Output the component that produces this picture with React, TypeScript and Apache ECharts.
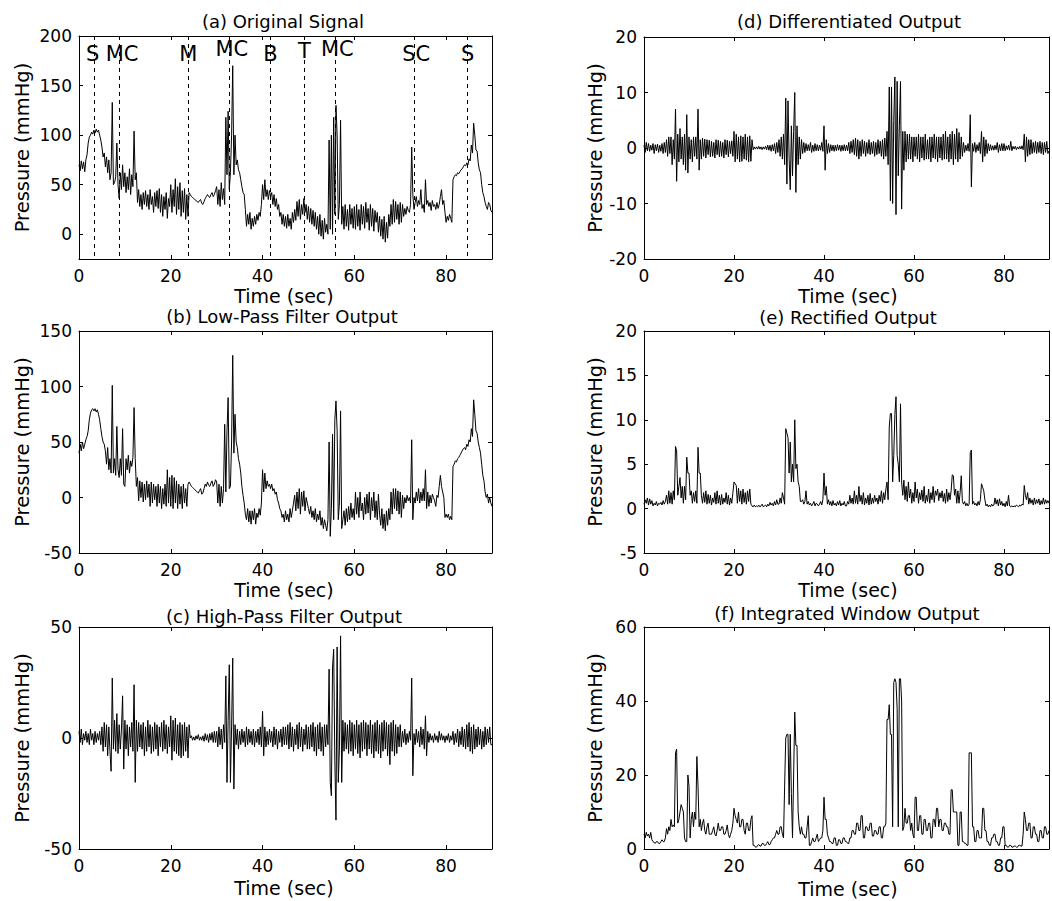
import React, { useEffect, useRef } from 'react';
import * as echarts from 'echarts';

const FONT = 'DejaVu Sans';
const STEP = 0.25; // seconds between samples (0 … 90 s)

// (a) Original signal (mmHg); each row = 5 s
const ORIGINAL = [
  70, 64, 74, 66, 73, 63, 75, 80, 92, 98, 100, 103, 101, 105, 102, 106, 103, 105, 100, 95,
  88, 78, 82, 68, 78, 62, 75, 55, 62, 133, 50, 52, 58, 92, 50, 36, 62, 45, 70, 48,
  62, 42, 58, 45, 66, 40, 60, 48, 104, 55, 62, 32, 45, 28, 40, 25, 42, 30, 44, 28,
  40, 25, 45, 30, 38, 22, 42, 28, 44, 26, 46, 22, 40, 18, 38, 25, 42, 16, 36, 28,
  50, 22, 45, 28, 56, 20, 48, 25, 52, 18, 44, 22, 46, 15, 40, 18, 42, 40, 38, 37,
  36, 35, 34, 33, 32, 34, 35, 31, 30, 33, 36, 38, 40, 38, 37, 40, 42, 38, 40, 44,
  48, 30, 45, 28, 52, 35, 46, 30, 118, 60, 124, 45, 62, 100, 170, 60, 100, 70, 75, 65,
  62, 55, 48, 42, 40, 25, 8, 20, 10, 22, 5, 16, 8, 18, 10, 20, 14, 22, 18, 30,
  50, 35, 55, 38, 45, 35, 44, 38, 42, 30, 40, 28, 36, 25, 30, 18, 22, 10, 20, 8,
  18, 6, 20, 8, 16, 5, 22, 12, 25, 14, 33, 18, 35, 15, 30, 20, 36, 22, 30, 15,
  28, 12, 26, 10, 24, 8, 22, 5, 18, 0, 20, -2, 14, -5, 16, 2, 10, 0, 95, 5,
  100, 0, 118, 20, 130, 100, 15, 30, 115, 10, 28, 5, 30, 8, 25, 4, 30, 10, 26, 6,
  28, 5, 30, 8, 25, 4, 30, 10, 28, 6, 32, 12, 26, 4, 30, 8, 26, 3, 24, 12,
  22, 2, 18, -2, 15, -5, 18, -8, 12, -4, 20, 8, 30, 10, 35, 12, 33, 15, 30, 10,
  32, 12, 30, 18, 26, 20, 28, 24, 22, 30, 88, 40, 25, 32, 38, 28, 34, 30, 45, 26,
  30, 22, 55, 30, 34, 28, 32, 24, 34, 28, 30, 25, 32, 26, 30, 38, 45, 30, 34, 22,
  12, 18, 14, 20, 16, 12, 55, 58, 60, 59, 62, 61, 63, 65, 66, 68, 70, 69, 72, 70,
  76, 74, 90, 82, 112, 100, 85, 84, 72, 65, 62, 50, 42, 38, 32, 28, 25, 32, 30, 24,
  22,
];

// (b) Low-pass filter output
const LOWPASS = [
  40, 48, 42, 50, 44, 48, 52, 55, 60, 70, 76, 79, 80, 78, 80, 77, 79, 75, 70, 62,
  55, 50, 48, 42, 30, 45, 25, 35, 22, 101, 22, 35, 20, 64, 25, 18, 35, 20, 62, 12,
  10, 35, 25, 38, 22, 33, 28, 36, 81, 35, 10, 18, -3, 15, 0, 14, -4, 12, -2, 15,
  0, 12, -8, 14, -5, 12, -2, 10, -8, 12, -5, 10, -10, 8, -6, 12, -8, 25, -5, 18,
  -8, 20, -10, 18, -5, 15, -10, 12, -6, 10, -10, 12, -5, 8, -8, 12, 14, 12, 10, 9,
  8, 7, 6, 5, 4, 6, 8, 3, 4, 8, 12, 10, 14, 11, 10, 13, 15, 10, 12, 16,
  14, -5, 12, -8, 10, -5, 8, 66, 5, 60, 90, 8, 10, 50, 128, 40, 75, 50, 45, 35,
  30, 22, 10, 2, -5, -15, -20, -10, -22, -12, -24, -12, -20, -10, -24, -14, -18, -10, -16, -5,
  25, 5, 22, 8, 15, 10, 12, 8, 12, 6, 8, 3, 5, -2, -5, -10, -12, -18, -15, -22,
  -12, -20, -15, -22, -10, -18, -12, -5, 2, -12, 5, -10, 8, -15, 5, -8, 6, -12, 0, -5,
  -10, -15, -8, -18, -12, -20, -10, -22, -15, -20, -12, -25, -18, -28, -20, -25, -30, -20, 50, -35,
  -10, 57, -20, 70, 87, 60, -20, -5, 78, -28, -20, -12, -25, -10, -22, -8, -20, -5, -18, -10,
  -20, 5, -15, 0, -18, 5, -12, -5, -20, 0, -15, 3, -14, 5, -20, 0, -12, 5, -18, -3,
  -20, 3, -15, -25, -10, -28, -15, -30, -12, -25, -10, -20, 5, -15, 8, -10, 8, -12, 6, -15,
  5, -18, 2, -10, 0, -5, 2, -3, 0, -5, 52, -20, 0, -5, 5, -3, 8, -5, 5, -3,
  8, -3, 25, -10, 5, -8, 2, -5, 3, 0, -3, -8, 2, 0, 10, 20, 10, 5, 0, -18,
  -15, -18, -15, -20, -17, -20, 28, 30, 33, 32, 35, 36, 38, 40, 42, 44, 45, 43, 48, 46,
  52, 50, 62, 55, 88, 75, 60, 58, 50, 45, 40, 30, 20, 15, 5, 0, 3, -5, 0, -5,
  -8,
];

// (c) High-pass filter output
const HIGHPASS = [
  3, -2, 4, -3, 2, -1, 3, -2, 2, -3, 4, -1, 2, -3, 3, -2, 2, -1, 3, -3,
  5, -6, 7, -4, 6, -8, 5, -6, -15, 27, -5, 8, -6, 11, -7, 6, -5, 4, 19, -14,
  8, -5, 6, -8, 5, -4, 7, -6, 24, -20, 8, -6, 7, -4, 6, -5, 7, -8, 5, -6,
  8, -4, 6, -7, 5, -6, 7, -5, 6, -8, 5, -4, 7, -6, 8, -5, 6, -7, 5, -4,
  10, -10, 8, -6, 9, -7, 6, -8, 7, -9, 6, -8, 7, -6, 5, -9, 6, 0, 1, -1,
  0.5, -1, 1, -0.5, 1.5, -1, 0.5, -1, 1, -1.5, 2, -1, 1.5, -2, 2, -1, 2.5, -2, 3, -2,
  3, -4, 5, -3, 4, -5, 6, -2, 28, -20, 8, 33, -20, 5, 36, -23, 6, -3, 4, -5,
  3, -3, 4, -2, 3, -4, 5, -3, 4, -2, 3, -3, 4, -4, 3, -2, 4, -3, 5, -4,
  12, -8, 5, -4, 3, -3, 4, -2, 3, -4, 5, -3, 4, -5, 3, -2, 4, -4, 5, -3,
  5, -3, 6, -5, 7, -4, 5, -6, 4, -3, 6, -5, 7, -4, 5, -6, 4, -3, 6, -5,
  5, -5, 6, -4, 7, -6, 5, -8, 6, -5, 7, -6, 5, -8, 6, -4, 6, -3, 31, -20,
  -26, 32, 40, -10, -37, 41, -20, -5, 46, -20, 8, -6, 7, -5, 6, -7, 8, -6, 7, -8,
  6, -5, 8, -7, 6, -9, 7, -6, 8, -5, 7, -8, 6, -5, 8, -7, 6, -9, 7, -6,
  8, -7, 6, -9, 7, -6, 8, -5, 7, -8, 6, -12, 7, -6, 8, -8, 6, -7, 5, -4,
  6, -4, 3, -2, 4, -3, 2, -2, 3, -1, 27, -17, 2, -3, 4, -2, 3, -4, 5, -3,
  4, -5, 10, -8, 3, -2, 2, -1, 1, -2, 2, -1, 1, -2, 3, -1, 2, -1, 1, -2,
  1, -1, 2, -2, 1, -1, 3, -3, 2, -2, 4, -4, 3, -3, 5, -4, 4, -5, 6, -4,
  7, -6, 5, -7, 6, -5, 4, -4, 5, -3, 4, -5, 3, -4, 5, -3, 4, -2, 5, -3,
  -3,
];

// (d) Differentiated output
const DIFFERENTIATED = [
  0.5, -0.8, 1, -0.5, 0.8, -0.6, 0.5, -0.4, 0.8, -1, 0.6, -0.5, 0.7, -0.8, 0.5, -0.6, 0.8, -1, 1, -0.8,
  1.5, -1.5, 2, -1, 2, -3, 1.5, -2, 7, -6, 2.5, -2.5, 3.5, -2, 2, -3, 2.5, -4, 6, -4.5,
  2, -2, 1.5, -2.5, 2, -1.5, 2, -2, 7, -4, 1.5, -2, 1.8, -1.5, 1.6, -1.8, 1.5, -1.2, 1.4, -1.6,
  1.2, -1.5, 1, -1.8, 1.5, -1.2, 1.4, -1.6, 1.2, -1.5, 1, -1.8, 1.5, -1.2, 1.4, -1.6, 1.2, -1, 1.3, -1.5,
  3, -2.5, 2.5, -2, 2, -2.5, 2.2, -2.4, 2, -2, 2.5, -2.2, 2, -2.5, 2.2, -2.4, 1.5, -0.3, 0.2, -0.2,
  0.2, -0.2, 0.3, -0.2, 0.2, -0.3, 0.2, -0.2, 0.3, -0.3, 0.5, -0.4, 0.5, -0.6, 0.6, -0.5, 0.8, -1, 1, -0.8,
  1.5, -1.5, 2, -2, 2.5, -3, 9, -6.5, 8.5, -2, -7.5, 4, -5, 3, 10, -8, 4, -3, 2, -2,
  1.5, -1, 1, -0.8, 0.8, -0.5, 0.6, -0.5, 1, -0.8, 0.5, -0.6, 0.8, -0.5, 0.6, -0.5, 0.5, -0.4, 1, -0.6,
  4, -4, 1.5, -1, 0.8, -0.8, 0.6, -0.5, 0.5, -0.6, 0.5, -0.5, 0.6, -0.4, 0.5, -0.6, 0.5, -0.5, 0.6, -0.5,
  0.5, -0.5, 1, -1, 1.2, -0.8, 1.5, -1.2, 1.8, -1.5, 1.5, -2, 1.2, -1.5, 1.5, -1, 1.2, -1.5, 1, -1,
  1.5, -1.2, 1, -1, 1.2, -1.5, 1, -1.2, 1.5, -1, 1.2, -1.5, 1.5, -2, 1.8, -1.5, 3, -3, 11, -9.5,
  11, -10, 5, 12.8, -12, 12, -5, 4, 12, -11, 3, -4, 3, -2.5, 2.5, -2, 2.5, -2, 2, -2.5,
  2, -1.5, 2, -2, 2.5, -2.5, 2, -1.8, 2, -2.2, 2.5, -2, 1.5, -2, 2, -2.5, 2, -1.8, 2.5, -2,
  2, -2.5, 2, -1.8, 2, -2.2, 2.5, -2, 3, -2, 2, -2.5, 2.5, -2, 3, -3, 2.5, -2, 3.5, -2.5,
  2.8, -2, 2, -1.5, 1, -0.8, 0.5, -0.5, 0.8, -0.6, 6, -7, 0.8, -0.6, 1, -0.8, 0.6, -0.5, 1, -1,
  3, -2.5, 2, -1.5, 1.5, -1, 0.8, -0.5, 0.6, -0.4, 0.4, -0.4, 0.5, -0.3, 1, -0.8, 0.6, -0.5, 0.8, -0.5,
  0.8, -0.5, 0.4, -0.3, 0.5, -0.4, 1.2, -0.5, 0.3, -0.2, 0.3, -0.3, 0.2, -0.2, 0.3, -0.2, 0.4, -0.3, 2.5, -2.5,
  2, -1.5, 1.5, -1.2, 1.5, -1, 1, -0.8, 1.2, -1, 1, -0.8, 1.2, -1, 1, -1.2, 1, -0.8, 1.2, -1,
  -0.5,
];

// (e) Rectified output
const RECTIFIED = [
  0.5, 1, 0.6, 1.2, 0.4, 1.1, 0.5, 0.9, 0.3, 0.6, 0.4, 0.8, 0.3, 0.6, 0.5, 0.7, 0.4, 0.9, 0.5, 0.8,
  1.5, 0.5, 2, 0.6, 1.8, 0.5, 2, 1, 7, 6.5, 1.5, 2.5, 3.5, 1.2, 2.5, 0.6, 2.5, 1, 5.8, 4,
  4, 1.5, 2, 0.6, 1.8, 0.8, 2, 0.6, 6.9, 4, 4, 1.5, 0.6, 1.8, 0.7, 2, 0.5, 1.6, 0.6, 1.5,
  0.4, 1.2, 0.7, 1.8, 0.5, 2, 0.6, 1.5, 0.4, 1.6, 0.5, 1.2, 0.7, 1.8, 0.5, 1.5, 0.4, 1.2, 0.6, 1.8,
  3, 2.8, 2.6, 0.6, 2.3, 0.8, 2, 0.5, 2.2, 0.7, 1.8, 0.5, 2, 0.8, 2.2, 0.5, 0.3, 0.2, 0.4, 0.2,
  0.3, 0.2, 0.4, 0.2, 0.3, 0.5, 0.2, 0.3, 0.4, 0.2, 0.5, 0.3, 0.7, 0.4, 0.6, 0.3, 0.8, 0.4, 1, 0.5,
  0.5, 1.2, 0.6, 1.8, 1.2, 0.5, 9, 8.5, 8, 4, 7.5, 3, 5, 3, 10, 4.5, 5, 3, 2.5, 0.8,
  0.8, 1, 0.5, 0.8, 2, 0.5, 0.8, 0.4, 0.6, 0.3, 0.5, 0.8, 0.3, 0.6, 0.5, 0.3, 0.5, 0.8, 0.4, 1,
  4, 1.5, 2.5, 0.5, 1, 0.4, 0.8, 0.3, 0.9, 0.4, 0.6, 0.3, 0.8, 0.4, 0.9, 0.3, 0.6, 0.4, 0.8, 0.3,
  0.3, 0.8, 0.5, 1.5, 0.6, 1.2, 0.5, 2, 0.6, 1.5, 0.5, 2.5, 0.8, 1.5, 0.5, 1.8, 0.4, 1.2, 0.6, 1.5,
  0.4, 1.7, 0.5, 1.2, 0.6, 1.5, 0.8, 1.2, 0.5, 1.5, 0.8, 2, 0.6, 1.8, 1, 2.2, 3, 1, 9.2, 10.7,
  10.7, 3, 6, 10.6, 12.6, 6, 5, 3, 11.8, 3, 1.5, 3.2, 1, 2.5, 0.8, 3, 1.2, 2.2, 0.6, 1.8,
  0.8, 3, 1.2, 2.2, 0.6, 1.8, 1, 2.1, 0.8, 2.5, 0.6, 1.5, 0.8, 2.2, 0.6, 1.8, 1, 2.5, 0.7, 2,
  1.5, 2.2, 0.9, 1.8, 1.2, 2, 0.8, 1.7, 0.6, 2.2, 0.8, 1.8, 1, 2, 3.8, 3.7, 1.5, 2.2, 0.6, 2,
  0.6, 1.8, 3.7, 0.8, 0.5, 0.8, 0.3, 0.6, 0.3, 0.5, 6.3, 6.6, 0.5, 0.8, 0.4, 0.6, 0.3, 0.8, 0.4, 1,
  2.8, 2.4, 2, 1, 0.3, 0.5, 0.2, 0.4, 0.2, 0.5, 0.3, 0.4, 1.2, 0.5, 1, 0.3, 1.1, 0.4, 0.8, 0.3,
  0.6, 0.2, 0.8, 0.3, 1.5, 0.3, 0.2, 0.3, 0.2, 0.3, 0.2, 0.4, 0.3, 0.2, 0.4, 0.3, 0.5, 0.4, 2.6, 1.5,
  1, 1.8, 0.5, 1.2, 0.6, 1, 0.4, 1.2, 0.5, 1, 0.6, 1.1, 0.4, 0.9, 0.5, 1.2, 0.5, 1, 0.6, 0.9,
  0.6,
];

// (f) Integrated window output
const INTEGRATED = [
  4, 3, 4.5, 3.5, 4, 3, 4.5, 2.5, 2, 1.8, 1.5, 2, 2, 1.5, 1.5, 2, 2.5, 2, 2, 3,
  5.5, 4, 6, 5, 8, 6, 6.5, 6, 26, 27, 7, 8, 10, 12, 11, 10, 3, 2, 2, 20,
  17, 3, 8, 10, 6, 10, 8, 25, 17, 6, 8, 5, 7, 8, 5, 4, 6, 7, 4, 4,
  4, 5, 6, 4, 3.5, 5, 7, 5, 5, 6, 6, 4, 4, 5, 6.5, 4, 3, 4, 5, 7,
  11, 9, 8, 7, 10, 6, 6, 8, 8, 5, 4, 7, 7, 5, 5, 8, 9, 1, 1, 0.5,
  0.5, 1, 1.2, 0.8, 0.8, 1.5, 1.5, 1, 1, 1.5, 2, 1.2, 1.2, 2, 2.5, 3, 3, 4, 5, 4,
  4, 6, 6, 4, 3, 17, 30, 31, 31, 12, 31, 15, 3, 20, 37, 28, 28, 10, 6, 4,
  6, 4, 4, 3, 3, 6, 9, 1, 1, 2, 3, 2, 2, 3, 4, 2, 2.5, 3, 3, 5,
  14, 8, 8, 4, 3, 2, 2, 1.5, 1.5, 3, 3, 1, 1, 2.5, 2.5, 1.5, 1.5, 3, 3, 2,
  2, 1.5, 1.5, 3, 3, 5, 5, 4, 4, 7, 7, 5, 5, 9, 9, 3, 3, 6, 6, 5,
  5, 7, 7, 3.5, 3.5, 5, 5, 4, 4, 6, 6, 3, 3, 6, 6, 7, 35, 35, 39, 31,
  31, 6, 45, 46, 45, 38, 6, 46, 46, 40, 5, 6, 11, 7, 7, 9, 9, 5, 7, 4,
  3, 14, 14, 5, 5, 9, 9, 4, 4, 8, 8, 5, 5, 7, 7, 3, 3, 8, 8, 6,
  11, 11, 6, 8, 8, 5, 5, 7, 7, 6, 6, 4, 4, 16, 16, 10, 10, 10, 10, 1,
  1, 10, 10, 2, 2, 1.5, 1.5, 1, 1, 26, 26, 26, 6, 6, 2, 2, 5, 5, 3, 3,
  3, 11, 11, 5, 5, 2, 2, 1, 1, 3, 3, 4, 4, 2, 2, 1, 1, 3, 3, 6,
  6, 1, 1, 0.5, 0.5, 1, 1, 0.5, 0.5, 0.8, 0.8, 0.5, 0.5, 1, 1, 0.8, 0.8, 4, 10, 8,
  5, 5, 7, 7, 3, 3, 6, 6, 4, 4, 2, 2, 5, 5, 3, 3, 6, 6, 4, 4,
  5,
];

// Event markers in panel (a)
const EVENT_TIMES = [3.3, 8.7, 23.7, 32.7, 41.6, 49.1, 55.9, 73.1, 84.6];
const EVENT_LABELS = ['S', 'MC', 'M', 'MC', 'B', 'T', 'MC', 'SC', 'S'];
const EVENT_LABEL_X = [3.0, 9.4, 23.8, 33.3, 41.7, 49.1, 56.3, 73.5, 84.7];
const EVENT_LABEL_Y = [182, 182, 182, 187, 182, 185, 187, 182, 182];

const TITLES = [
  '(a) Original Signal',
  '(b) Low-Pass Filter Output',
  '(c) High-Pass Filter Output',
  '(d) Differentiated Output',
  '(e) Rectified Output',
  '(f) Integrated Window Output',
];
const SERIES_VALUES = [ORIGINAL, LOWPASS, HIGHPASS, DIFFERENTIATED, RECTIFIED, INTEGRATED];
const Y_MIN = [-25, -50, -50, -20, -5, 0];
const Y_MAX = [200, 150, 50, 20, 20, 60];
const Y_STEP = [50, 50, 50, 10, 5, 20];
const X_MIN = 0;
const X_MAX = 90;
const X_STEP = 20;

// layout (pixels)
const GRIDS = [
  { left: 79, top: 36, width: 413, height: 223 },
  { left: 79, top: 331, width: 413, height: 222 },
  { left: 79, top: 627, width: 413, height: 222 },
  { left: 644, top: 37, width: 412, height: 222 },
  { left: 644, top: 331, width: 412, height: 222 },
  { left: 644, top: 627, width: 412, height: 222 },
];
const TITLE_POS = [
  [283, 21], [282, 316.5], [284, 616], [849, 21], [848, 317], [847, 613],
];
const XNAME_POS = [
  [284, 295.5], [284, 590], [284, 888], [848, 295.5], [848, 590], [848, 889],
];
const YNAME_X = [22.5, 22.5, 22.5, 595, 595, 595];

const multipleFormatter = (step: number) => (v: number) => {
  const r = v / step;
  return Math.abs(r - Math.round(r)) < 1e-6 ? String(v) : '';
};

function buildOption() {
  const black = '#000';
  const xAxis: any[] = [];
  const yAxis: any[] = [];
  const series: any[] = [];
  const graphic: any[] = [];

  GRIDS.forEach((g, i) => {
    const xBase = {
      type: 'value',
      gridIndex: i,
      min: X_MIN,
      max: X_MAX,
      interval: X_STEP,
      splitLine: { show: false },
      axisLine: { show: true, onZero: false, lineStyle: { color: black, width: 1 } },
      axisTick: { show: true, inside: true, length: 4, lineStyle: { color: black, width: 1 } },
    };
    xAxis.push({
      ...xBase,
      position: 'bottom',
      axisLabel: {
        show: true, color: black, fontFamily: FONT, fontSize: 17, margin: 8,
        formatter: multipleFormatter(X_STEP),
      },
    });
    xAxis.push({ ...xBase, position: 'top', axisLabel: { show: false } });

    const yBase: any = {
      type: 'value',
      gridIndex: i,
      min: Y_MIN[i],
      max: Y_MAX[i],
      splitLine: { show: false },
      axisLine: { show: true, onZero: false, lineStyle: { color: black, width: 1 } },
      axisTick: { show: true, inside: true, length: 4, lineStyle: { color: black, width: 1 } },
    };
    if (Y_MIN[i] % Y_STEP[i] === 0) yBase.interval = Y_STEP[i];
    else yBase.splitNumber = 5;
    yAxis.push({
      ...yBase,
      position: 'left',
      axisLabel: {
        show: true, color: black, fontFamily: FONT, fontSize: 17, margin: 7,
        formatter: multipleFormatter(Y_STEP[i]),
      },
    });
    yAxis.push({ ...yBase, position: 'right', axisLabel: { show: false } });

    const s: any = {
      type: 'line',
      xAxisIndex: 2 * i,
      yAxisIndex: 2 * i,
      data: SERIES_VALUES[i].map((v, k) => [k * STEP, v]),
      showSymbol: false,
      symbol: 'none',
      lineStyle: { color: black, width: 1 },
      silent: true,
      clip: true,
    };
    if (i === 0) {
      s.markLine = {
        silent: true,
        symbol: ['none', 'none'],
        label: { show: false },
        lineStyle: { color: black, width: 1, type: [4, 4] },
        data: EVENT_TIMES.map((t) => [{ coord: [t, Y_MAX[0]] }, { coord: [t, Y_MIN[0]] }]),
      };
    }
    series.push(s);

    graphic.push({
      type: 'text', x: TITLE_POS[i][0], y: TITLE_POS[i][1], silent: true,
      style: { text: TITLES[i], fill: black, font: `18px "${FONT}"`, textAlign: 'center', textVerticalAlign: 'middle' },
    });
    graphic.push({
      type: 'text', x: XNAME_POS[i][0], y: XNAME_POS[i][1], silent: true,
      style: { text: 'Time (sec)', fill: black, font: `19px "${FONT}"`, textAlign: 'center', textVerticalAlign: 'middle' },
    });
    graphic.push({
      type: 'text', x: YNAME_X[i], y: g.top + g.height / 2, rotation: Math.PI / 2, silent: true,
      style: { text: 'Pressure (mmHg)', fill: black, font: `19.5px "${FONT}"`, textAlign: 'center', textVerticalAlign: 'middle' },
    });
  });

  series.push({
    type: 'scatter',
    xAxisIndex: 0,
    yAxisIndex: 0,
    symbolSize: 1,
    itemStyle: { color: 'rgba(255,255,255,0)' },
    silent: true,
    z: 5,
    data: EVENT_LABELS.map((n, k) => ({ name: n, value: [EVENT_LABEL_X[k], EVENT_LABEL_Y[k]] })),
    label: {
      show: true, position: 'inside', formatter: '{b}', color: '#000', opacity: 1,
      fontFamily: FONT, fontSize: 21, textBorderWidth: 0, textBorderColor: 'transparent',
    },
  });

  return {
    animation: false,
    backgroundColor: '#fff',
    grid: GRIDS.map((g) => ({ ...g, show: false, containLabel: false })),
    xAxis,
    yAxis,
    series,
    graphic,
  };
}

export default function App() {
  const ref = useRef<HTMLDivElement>(null);
  useEffect(() => {
    if (!ref.current) return;
    const chart = echarts.init(ref.current, undefined, { renderer: 'svg' });
    chart.setOption(buildOption() as any);
    return () => chart.dispose();
  }, []);
  return (
    <div
      ref={ref}
      style={{ position: 'fixed', left: 0, top: 0, width: 1052, height: 901, background: '#fff' }}
    />
  );
}
